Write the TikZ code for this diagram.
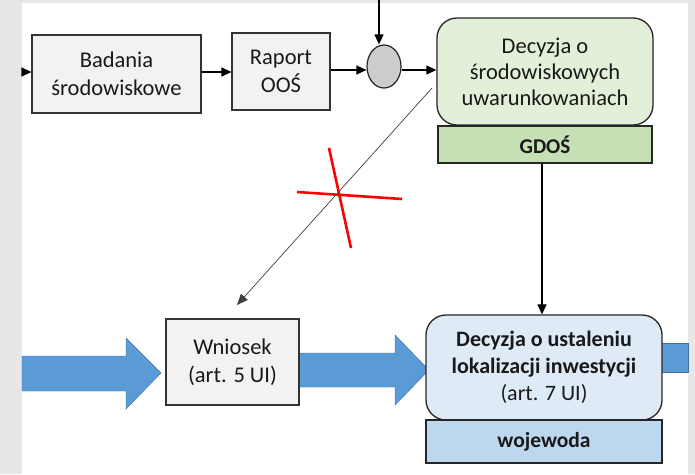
\documentclass[tikz,border=0pt]{standalone}
\usepackage{fontspec}
\setmainfont{Carlito}
\usetikzlibrary{arrows.meta,shapes.geometric}
\definecolor{bggray}{HTML}{E7E7E7}
\definecolor{boxgray}{HTML}{F2F2F2}
\definecolor{lgreen}{HTML}{E2F0D9}
\definecolor{dgreen}{HTML}{C5E0B4}
\definecolor{lblue}{HTML}{DEEBF7}
\definecolor{dblue}{HTML}{BDD7EE}
\definecolor{arrblue}{HTML}{5B9BD5}
\definecolor{arrborder}{HTML}{41719C}
\begin{document}
\begin{tikzpicture}[x=1pt,y=-1pt,
  txt/.style={font=\fontsize{22.5}{28}\selectfont, align=center, text=black!90},
  graybox/.style={draw=black!80, line width=1.2pt, fill=boxgray, inner sep=0pt, txt},
  roundbox/.style={draw=black!85, line width=1.3pt, rounded corners=20pt, inner sep=0pt, txt},
  flatbox/.style={draw=black!85, line width=1.3pt, inner sep=0pt, txt},
  conn/.style={line width=1.2pt, -{Triangle[length=10pt,width=9pt]}},
  thinconn/.style={line width=0.7pt, draw=black!75, -{Triangle[length=11pt,width=9pt]}},
  blockarrow/.style={fill=arrblue, draw=arrborder, line width=0.4pt},
  redx/.style={draw=red, line width=2.6pt}
]
\useasboundingbox (0,0) rectangle (695,474);
\fill[bggray] (0,0) rectangle (695,474);
\fill[white] (22,3) rectangle (688,474);

% block arrows
\path[blockarrow] (22,356) -- (126,356) -- (126,338) -- (161,373) -- (126,409) -- (126,391) -- (22,391) -- cycle;
\path[blockarrow] (299,353) -- (395,353) -- (395,335) -- (429,370) -- (395,405) -- (395,387) -- (299,387) -- cycle;
\path[blockarrow] (660,343) -- (688,343) -- (688,372) -- (660,372) -- cycle;

% nodes
\node[graybox, minimum width=169pt, minimum height=78pt] (bad) at (116.5,74) {Badania\\środowiskowe};
\node[graybox, minimum width=98pt, minimum height=77pt] (rap) at (281,71.5) {Raport\\OOŚ};
\node[ellipse, draw=black!85, line width=1.2pt, fill=black!20, minimum width=34pt, minimum height=43pt, inner sep=0pt] (cir) at (384,66.5) {};
\node[roundbox, fill=lgreen, minimum width=216pt, minimum height=107pt, font=\fontsize{22.5}{26}\selectfont] (dsu) at (545,71.5) {Decyzja o\\środowiskowych\\uwarunkowaniach};
\node[flatbox, fill=dgreen, minimum width=214pt, minimum height=37pt, font=\fontsize{21}{24}\selectfont\bfseries] (gdos) at (545,144.5) {GDOŚ};
\node[graybox, minimum width=133pt, minimum height=86pt] (wn) at (232.5,362) {Wniosek\\(art. 5 UI)};
\node[roundbox, fill=lblue, minimum width=236pt, minimum height=105pt, font=\fontsize{22}{27}\selectfont] (dul) at (544,367.5) {\textbf{Decyzja o ustaleniu}\\\textbf{lokalizacji inwestycji}\\(art. 7 UI)};
\node[flatbox, fill=dblue, minimum width=236pt, minimum height=43pt, font=\fontsize{21.5}{24}\selectfont\bfseries] (woj) at (544,441.5) {wojewoda};

% coordinates
\coordinate (inL) at (22,72);
\coordinate (inT) at (379,0);
\coordinate (diagS) at (432,88);
\coordinate (diagE) at (237,305);

% connectors
\draw[conn] (inL) -- (inL -| bad.west);
\draw[conn] (bad.east |- 0,72) -- (rap.west |- 0,72);
\draw[conn] (rap.east |- 0,70) -- (cir.west |- 0,70);
\draw[conn] (inT) -- (inT |- cir.north);
\draw[conn] (cir.east |- 0,70) -- (dsu.west |- 0,70);
\draw[conn] (gdos.south -| 542,0) -- (dul.north -| 542,0);
\draw[thinconn] (diagS) -- (diagE);

% red cross
\draw[redx] (329,148) -- (351,248);
\draw[redx] (297,192) -- (402,199);
\end{tikzpicture}
\end{document}
